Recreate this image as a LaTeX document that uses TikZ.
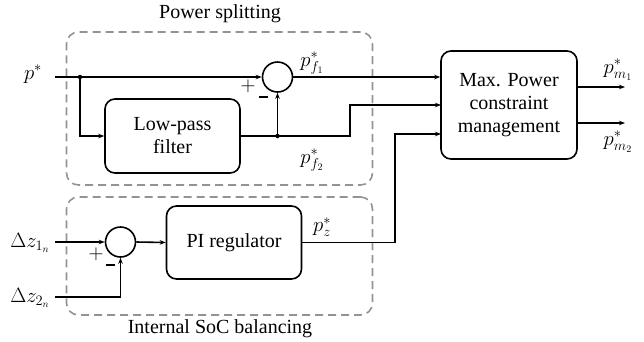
\documentclass[tikz,border=0pt]{standalone}
\usepackage{fontspec}
\setmainfont{Liberation Serif}
\usetikzlibrary{arrows.meta}
\begin{document}
\begin{tikzpicture}[x=1pt,y=-1pt, font=\fontsize{20}{23}\selectfont,
 line/.style={line width=1.6pt},
 arr/.style={line, -{Stealth[length=6pt,width=4.5pt]}},
 blk/.style={draw, line width=1.6pt, rounded corners=10pt, align=center, inner sep=0pt},
 sumc/.style={draw, circle, line width=1.6pt, minimum size=30pt, inner sep=0pt},
 grp/.style={draw=gray!85, line width=1.6pt, rounded corners=12pt, dash pattern=on 8pt off 5pt, minimum width=306pt},
 dot/.style={circle, fill, inner sep=0pt, minimum size=4.5pt},
 minus/.style={inner sep=0pt, font=\rule{9pt}{2.2pt}}]
\useasboundingbox (0,0) rectangle (644,341);
% groups
\node[grp, minimum height=153pt] (g1) at (219.5,108.5) {};
\node[grp, minimum height=118pt] (g2) at (219.5,256) {};
\node (t1) at (220,14) {Power splitting};
\node (t2) at (220,329) {Internal SoC balancing};
% blocks
\node[blk, minimum width=135pt, minimum height=74pt] (lpf) at (172.5,136) {Low-pass\\filter};
\node[blk, minimum width=136pt, minimum height=108pt] (mx) at (509,105) {Max. Power\\constraint\\management};
\node[blk, minimum width=135pt, minimum height=73pt] (pi) at (234,242.5) {PI regulator};
\node[sumc] (s1) at (277.5,77) {};
\node[sumc] (s2) at (120.5,242) {};
% coordinates
\coordinate (pin) at (55,77);
\coordinate (j1) at (80,77);
\coordinate (j2) at (277.5,136);
\coordinate (k1) at (350,136);
\coordinate (m2) at (441,105);
\coordinate (k3) at (395,242.5);
\coordinate (m3) at (441,134);
\coordinate (o1) at (625,87);
\coordinate (o2) at (625,123);
\coordinate (z1) at (55,242);
\coordinate (z2) at (55,297);
% connectors
\draw[arr] (pin) -- (s1.west);
\draw[arr] (j1) |- (lpf.west);
\draw[arr] (j2) -- (s1.south);
\draw[arr] (lpf.east) -- (k1) |- (m2);
\draw[arr] (s1.east) -- (s1.east -| mx.west);
\draw[arr] (pi.east) -- (k3) |- (m3);
\draw[arr] (o1 -| mx.east) -- (o1);
\draw[arr] (o2 -| mx.east) -- (o2);
\draw[arr] (z1) -- (s2.west);
\draw[arr] (z2) -| (s2.south);
\draw[arr] (s2.east) -- (pi.west);
\node[dot] (d1) at (j1) {};
\node[dot] (d2) at (j2) {};
% labels
\node (lp) at (33,74) {$p^*$};
\node (pl1) at (248,86) {$+$};
\node[minus] (mi1) at (263,97) {};
\node (lf1) at (312,63) {$p^*_{f_1}$};
\node (lf2) at (312,160) {$p^*_{f_2}$};
\node (lz) at (322,227) {$p^*_z$};
\node (lm1) at (618,70) {$p^*_{m_1}$};
\node (lm2) at (618,142) {$p^*_{m_2}$};
\node (lz1) at (30,243) {$\Delta z_{1_n}$};
\node (lz2) at (30,298) {$\Delta z_{2_n}$};
\node (pl2) at (96,254) {$+$};
\node[minus] (mi2) at (110,265) {};
\end{tikzpicture}
\end{document}
